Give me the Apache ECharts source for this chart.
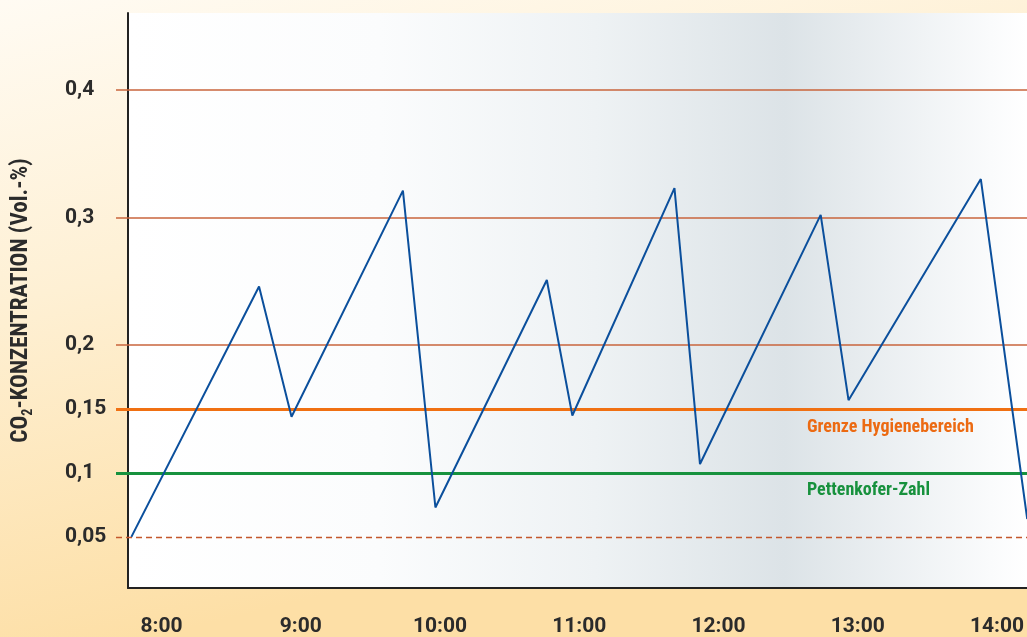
<!DOCTYPE html>
<html>
<head>
<meta charset="utf-8">
<title>CO2-Konzentration</title>
<script src="https://cdn.jsdelivr.net/npm/echarts@6/dist/echarts.min.js"></script>
<style>
    html, body {
        margin: 0;
        padding: 0;
    }
    #chart {
        width: 1027px;
        height: 637px;
    }
</style>
</head>
<body>
<div id="chart"></div>
<script>
// Messzeitpunkte (Uhrzeit) und CO2-Werte in Vol.-%
const times = ['7:47', '8:42', '8:56', '9:44', '9:58', '10:46', '10:57', '11:41', '11:52', '12:44', '12:56', '13:53', '14:13']
const co2 = [0.05, 0.246, 0.144, 0.321, 0.073, 0.251, 0.145, 0.323, 0.107, 0.302, 0.157, 0.33, 0.064]

const hourTicks = [8, 9, 10, 11, 12, 13, 14]
const valueTicks = [0.05, 0.1, 0.15, 0.2, 0.3, 0.4]

const limitHygiene = 0.15
const limitPettenkofer = 0.1
const gridValues = [0.2, 0.3, 0.4]
const baseValue = 0.05

const NARROW = '"Roboto Condensed", "Liberation Sans Narrow", sans-serif'
const WIDE = 'Roboto, "Liberation Sans", sans-serif'

function toHours(t) {
    const p = t.split(':')
    return Number(p[0]) + Number(p[1]) / 60
}

function hLine(value, style) {
    return [
        {x: 116, yAxis: value, lineStyle: style},
        {x: 1027, yAxis: value}
    ]
}

const chart = echarts.init(document.getElementById('chart'))

const brown = {color: '#c9643c', width: 1.5, type: 'solid'}

chart.setOption({
    backgroundColor: {
        type: 'linear',
        x: 0, y: 0, x2: 0.15, y2: 1,
        colorStops: [
            {offset: 0, color: '#fffbf3'},
            {offset: 0.45, color: '#fef0d4'},
            {offset: 1, color: '#fddfa6'}
        ]
    },
    animation: false,
    grid: {
        left: 128,
        right: 0,
        top: 13,
        bottom: 49,
        containLabel: false,
        outerBoundsMode: 'none',
        show: true,
        borderWidth: 0,
        backgroundColor: {
            type: 'linear',
            x: 0, y: 0, x2: 1, y2: 0,
            colorStops: [
                {offset: 0, color: '#ffffff'},
                {offset: 0.28, color: '#fbfcfd'},
                {offset: 0.52, color: '#eef2f4'},
                {offset: 0.73, color: '#dce3e7'},
                {offset: 0.96, color: '#fafbfc'},
                {offset: 1, color: '#ffffff'}
            ]
        }
    },
    xAxis: {
        type: 'value',
        min: 7.759,
        max: 14.215,
        axisLine: {
            show: true,
            onZero: false,
            lineStyle: {color: '#222', width: 2}
        },
        axisTick: {show: false},
        splitLine: {show: false},
        axisLabel: {
            customValues: hourTicks,
            formatter: v => v + ':00',
            margin: 28,
            fontFamily: WIDE,
            fontWeight: 'bold',
            fontSize: 21,
            color: '#2b2b2b'
        }
    },
    yAxis: {
        type: 'value',
        min: 0.01,
        max: 0.46,
        name: '{a|CO}{sub|2}{a|-KONZENTRATION (Vol.-%)}',
        nameLocation: 'middle',
        nameRotate: 90,
        nameGap: 93,
        nameTextStyle: {
            rich: {
                a: {
                    fontFamily: NARROW,
                    fontWeight: 'bold',
                    fontSize: 23,
                    color: '#2b2b2b',
                    lineHeight: 28
                },
                sub: {
                    fontFamily: NARROW,
                    fontWeight: 'bold',
                    fontSize: 14,
                    color: '#2b2b2b',
                    lineHeight: 28,
                    verticalAlign: 'bottom'
                }
            }
        },
        axisLine: {
            show: true,
            lineStyle: {color: '#222', width: 2}
        },
        axisTick: {show: false},
        splitLine: {show: false},
        axisLabel: {
            customValues: valueTicks,
            formatter: v => String(v).replace('.', ','),
            align: 'left',
            margin: 63,
            fontFamily: WIDE,
            fontWeight: 'bold',
            fontSize: 21,
            color: '#2b2b2b'
        }
    },
    graphic: [
        {
            type: 'text',
            left: 807,
            top: 418,
            style: {
                text: 'Grenze Hygienebereich',
                fontFamily: NARROW,
                fontWeight: 'bold',
                fontSize: 18,
                fill: '#ec6a12'
            }
        },
        {
            type: 'text',
            left: 807,
            top: 481,
            style: {
                text: 'Pettenkofer-Zahl',
                fontFamily: NARROW,
                fontWeight: 'bold',
                fontSize: 18,
                fill: '#17913d'
            }
        }
    ],
    series: [
        {
            type: 'line',
            data: times.map((t, i) => [toHours(t), co2[i]]),
            symbol: 'none',
            clip: false,
            z: 5,
            lineStyle: {
                color: '#0b4f9c',
                width: 2
            },
            markLine: {
                silent: true,
                symbol: 'none',
                z: 3,
                label: {show: false},
                data: [
                    ...gridValues.map(v => hLine(v, brown)),
                    hLine(limitHygiene, {color: '#f07012', width: 3, type: 'solid'}),
                    hLine(limitPettenkofer, {color: '#17923e', width: 3, type: 'solid'}),
                    hLine(baseValue, {color: '#c4572c', width: 1.3, type: [6, 4]})
                ]
            }
        }
    ]
})
</script>
</body>
</html>
